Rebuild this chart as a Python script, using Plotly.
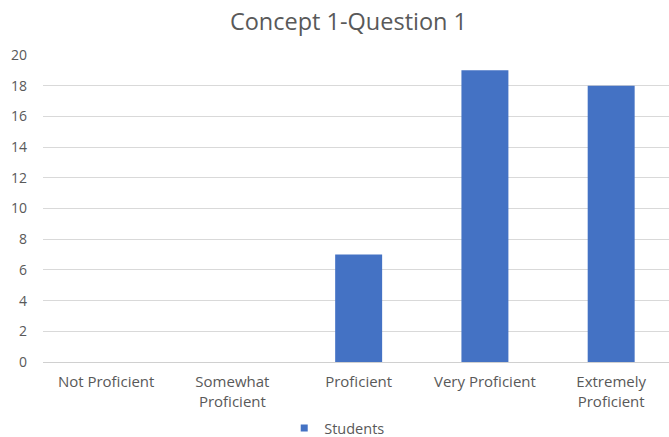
import plotly.graph_objects as go

categories = ["Not Proficient", "Somewhat<br>Proficient", "Proficient", "Very Proficient", "Extremely<br>Proficient"]
students = [0, 0, 7, 19, 18]
series_name = "Students"
title_text = "Concept 1-Question 1"
bar_color = "#4472C4"

fig = go.Figure()
fig.add_trace(go.Bar(x=categories, y=students, name=series_name, showlegend=False,
                     marker=dict(color=bar_color, line=dict(width=0))))
# legend entry with a small square marker, like the original
fig.add_trace(go.Scatter(x=[None], y=[None], mode="markers", name=series_name,
                         marker=dict(symbol="square", size=7, color=bar_color)))

fig.update_layout(
    width=669, height=437,
    margin=dict(l=43, r=0, t=55, b=75, autoexpand=False),
    paper_bgcolor="white", plot_bgcolor="white",
    font=dict(family="Open Sans, Noto Sans, sans-serif", color="#595959", size=13),
    title=dict(text=title_text, xref="paper", x=0.488, xanchor="center",
               y=0.95, yanchor="middle",
               font=dict(size=23.5, color="#595959")),
    bargap=0.628,
    showlegend=True,
    legend=dict(orientation="h", x=0.47, xanchor="center", y=-0.215, yanchor="middle",
                font=dict(size=14.5, color="#595959"), itemwidth=30,
                bgcolor="rgba(0,0,0,0)"),
)
fig.update_xaxes(range=[-0.5, 4.458], showgrid=False, showline=True, linecolor="#d0d0d0",
                 linewidth=1, ticks="", automargin=False, ticklabelstandoff=6,
                 tickfont=dict(size=15, color="#595959"))
fig.update_yaxes(range=[0, 20], dtick=2, showgrid=True, gridcolor="#d9d9d9", gridwidth=1,
                 zeroline=False, showline=False, ticks="", automargin=False,
                 ticklabelstandoff=15,
                 tickfont=dict(size=14, color="#595959"))

fig.write_html("out.html")
